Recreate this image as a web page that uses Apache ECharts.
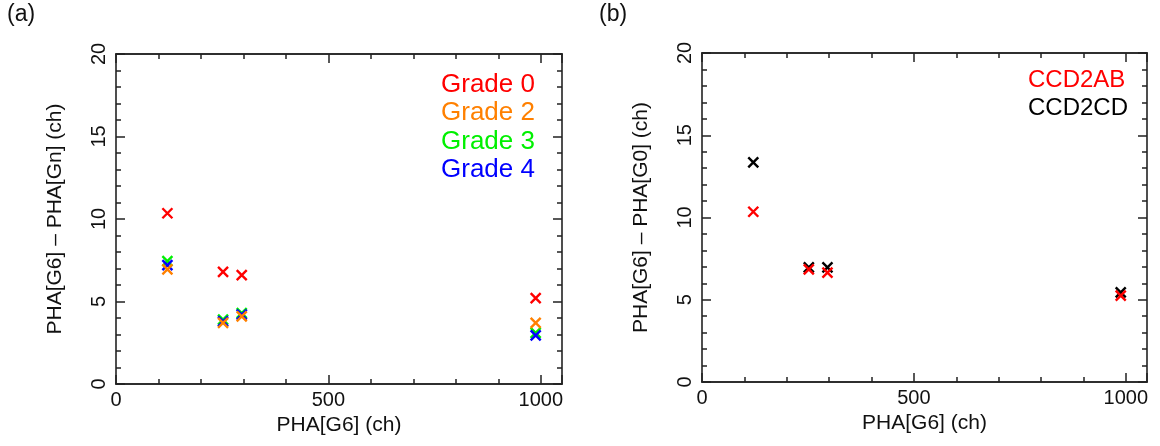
<!DOCTYPE html>
<html>
<head>
<meta charset="utf-8">
<script src="https://cdn.jsdelivr.net/npm/echarts@6/dist/echarts.min.js"></script>
<style>
  html, body { margin: 0; padding: 0; background: #fff; }
  #main { width: 1160px; height: 446px; }
</style>
</head>
<body>
<div id="main"></div>
<script>
// PHA[G6] positions (ch)
var xValues = [121, 252, 296, 988];
// panel (a): PHA[G6] - PHA[Gn]
var gradeNames = ['Grade 0', 'Grade 2', 'Grade 3', 'Grade 4'];
var gradeColors = ['#ff0000', '#ff8000', '#00f000', '#0000ff'];
var grade0 = [10.35, 6.8, 6.6, 5.2];
var grade2 = [6.95, 3.7, 4.1, 3.7];
var grade3 = [7.45, 3.9, 4.3, 3.1];
var grade4 = [7.2, 3.8, 4.2, 2.95];
// panel (b): PHA[G6] - PHA[G0]
var ccdNames = ['CCD2AB', 'CCD2CD'];
var ccdColors = ['#ff0000', '#000000'];
var ccd2ab = [10.35, 6.85, 6.65, 5.25];
var ccd2cd = [13.35, 6.97, 6.97, 5.45];
// axes
var xTicks = [0, 500, 1000];
var yTicks = [0, 5, 10, 15, 20];

var font = 'Liberation Sans, Arial, Helvetica, sans-serif';
var axisColor = '#222';
var textColor = '#111';
var crossSymbol = 'path://M0,0L10,10M10,0L0,10';

function pairs(ys) {
  return xValues.map(function (x, i) { return [x, ys[i]]; });
}

// four x axes per panel: bottom minor / bottom major / top minor / top major
function xAxes(grid, name) {
  var line = { show: true, onZero: false, lineStyle: { color: axisColor, width: 1.6 } };
  function ax(pos, interval, len, labels) {
    return {
      gridIndex: grid, type: 'value', position: pos,
      min: 0, max: 1050, interval: interval,
      axisLine: line,
      axisTick: { inside: true, length: len, lineStyle: { color: axisColor, width: 1.5 } },
      axisLabel: {
        show: labels, margin: 6, fontSize: 20, color: textColor, fontFamily: font,
        formatter: function (v) { return xTicks.indexOf(v) >= 0 ? String(v) : ''; }
      },
      splitLine: { show: false },
      name: labels ? name : '', nameLocation: 'middle', nameGap: 30,
      nameTextStyle: { fontSize: 21, color: textColor, fontFamily: font }
    };
  }
  return [ax('bottom', 100, 5, false), ax('bottom', 500, 9, true),
          ax('top', 100, 5, false), ax('top', 500, 9, false)];
}

function yAxes(grid, name) {
  function ax(pos, labels) {
    return {
      gridIndex: grid, type: 'value', position: pos,
      min: 0, max: 20, interval: 5,
      axisLine: { show: true, onZero: false, lineStyle: { color: axisColor, width: 1.6 } },
      axisTick: { inside: true, length: 9, lineStyle: { color: axisColor, width: 1.5 } },
      minorTick: { show: true, splitNumber: 5, length: 5, lineStyle: { color: axisColor, width: 1.5 } },
      axisLabel: {
        show: labels, rotate: 90, margin: 7, fontSize: 20, color: textColor, fontFamily: font,
        formatter: function (v) { return yTicks.indexOf(v) >= 0 ? String(v) : ''; }
      },
      splitLine: { show: false },
      name: labels ? name : '', nameLocation: 'middle', nameGap: 50,
      nameTextStyle: { fontSize: 21, color: textColor, fontFamily: font }
    };
  }
  return [ax('left', true), ax('right', false)];
}

function scatter(name, ys, color, xi, yi) {
  return {
    name: name, type: 'scatter', xAxisIndex: xi, yAxisIndex: yi,
    symbol: crossSymbol, symbolSize: 10,
    itemStyle: { color: color, borderColor: color, borderWidth: 2.4, opacity: 1 },
    data: pairs(ys)
  };
}

// legend texts are drawn as plain coloured words, no icons
var legendText = [];
gradeNames.forEach(function (n, i) {
  legendText.push({ type: 'text', left: 441, top: 72 + i * 28.3,
    style: { text: n, fill: gradeColors[i], font: '26px ' + font } });
});
ccdNames.forEach(function (n, i) {
  legendText.push({ type: 'text', left: 1028, top: 68 + i * 28.3,
    style: { text: n, fill: ccdColors[i], font: '24px ' + font } });
});

var option = {
  animation: false,
  backgroundColor: '#fff',
  grid: [
    { left: 116, top: 54, width: 446, height: 330 },
    { left: 702, top: 53, width: 445, height: 329 }
  ],
  xAxis: xAxes(0, 'PHA[G6] (ch)').concat(xAxes(1, 'PHA[G6] (ch)')),
  yAxis: yAxes(0, 'PHA[G6] \u2013 PHA[Gn] (ch)').concat(yAxes(1, 'PHA[G6] \u2013 PHA[G0] (ch)')),
  graphic: [
    { type: 'text', left: 7, top: 3, style: { text: '(a)', fill: textColor, font: '23px ' + font } },
    { type: 'text', left: 599, top: 3, style: { text: '(b)', fill: textColor, font: '23px ' + font } }
  ].concat(legendText),
  series: [
    scatter(gradeNames[0], grade0, gradeColors[0], 1, 0),
    scatter(gradeNames[2], grade3, gradeColors[2], 1, 0),
    scatter(gradeNames[3], grade4, gradeColors[3], 1, 0),
    scatter(gradeNames[1], grade2, gradeColors[1], 1, 0),
    scatter(ccdNames[1], ccd2cd, ccdColors[1], 5, 2),
    scatter(ccdNames[0], ccd2ab, ccdColors[0], 5, 2)
  ]
};

var myChart = echarts.init(document.getElementById('main'));
myChart.setOption(option);
</script>
</body>
</html>
